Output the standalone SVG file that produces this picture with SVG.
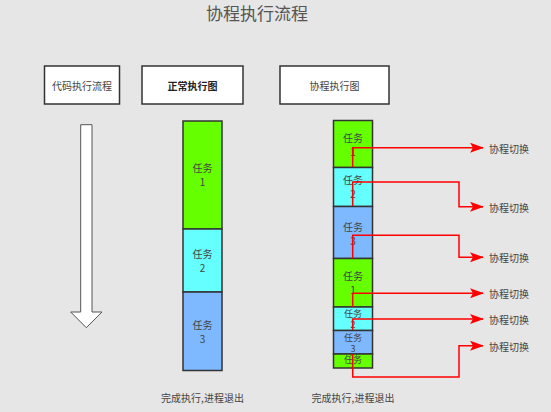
<svg xmlns="http://www.w3.org/2000/svg" width="551" height="412" viewBox="0 0 551 412">
<defs>
<marker id="ah" viewBox="0 0 14 10" refX="13" refY="5" markerWidth="14" markerHeight="10" markerUnits="userSpaceOnUse" orient="auto">
<path d="M0,0 L14,5 L0,10 L3,5 Z" fill="#FF0000"/>
</marker>
<clipPath id="clipG"><rect x="333.5" y="354" width="39" height="14"/></clipPath>
</defs>
<style>
text{font-family:"Noto Sans CJK SC","Noto Sans",sans-serif;fill:#444;text-anchor:middle;dominant-baseline:central}
.t{font-size:10px}
.s{font-size:9px}
.hdr{fill:#fff;stroke:#333;stroke-width:1.5}
.g{fill:#66FF00;stroke:#333;stroke-width:1.5}
.c{fill:#66FFFF;stroke:#333;stroke-width:1.5}
.b{fill:#7EB9FF;stroke:#333;stroke-width:1.5}
.r{fill:none;stroke:#FF0000;stroke-width:1.5;marker-end:url(#ah)}
.lbl{font-size:10px;text-anchor:start;fill:#444}
</style>
<rect width="551" height="412" fill="#E6E6E6"/>
<text x="257" y="12" style="font-size:17px;fill:#555">协程执行流程</text>

<g id="hdr1"><rect class="hdr" x="44.5" y="66" width="75" height="38"/><text class="t" x="82" y="85">代码执行流程</text></g>
<g id="hdr2"><rect class="hdr" x="142" y="66" width="101" height="38"/><text class="t" x="192.5" y="85" style="font-weight:bold;fill:#222">正常执行图</text></g>
<g id="hdr3"><rect class="hdr" x="280" y="66" width="109" height="38"/><text class="t" x="334.5" y="85">协程执行图</text></g>

<g id="flow-arrow"><polygon points="80.7,124.7 92,124.7 92,312 102,312 86.3,327.7 70.7,312 80.7,312" fill="#fff" stroke="#555" stroke-width="1"/></g>

<g id="n-task1"><rect class="g" x="183" y="121" width="39" height="108"/><text class="t" x="202.5" y="167">任务</text><text class="t" x="202.5" y="181">1</text></g>
<g id="n-task2"><rect class="c" x="183" y="229" width="39" height="63"/><text class="t" x="202.5" y="253">任务</text><text class="t" x="202.5" y="267">2</text></g>
<g id="n-task3"><rect class="b" x="183" y="292" width="39" height="78.5"/><text class="t" x="202.5" y="324">任务</text><text class="t" x="202.5" y="338">3</text></g>
<text class="t" x="202.5" y="397">完成执行,进程退出</text>

<g id="c-task1a"><rect class="g" x="333.5" y="120.5" width="39" height="47"/><text class="t" x="353" y="137">任务</text><text class="t" x="353" y="151">1</text></g>
<g id="c-task2a"><rect class="c" x="333.5" y="167.5" width="39" height="39"/><text class="t" x="353" y="179">任务</text><text class="t" x="353" y="193">2</text></g>
<g id="c-task3a"><rect class="b" x="333.5" y="206.5" width="39" height="52"/><text class="t" x="353" y="226">任务</text><text class="t" x="353" y="240">3</text></g>
<g id="c-task1b"><rect class="g" x="333.5" y="258.5" width="39" height="48.5"/><text class="t" x="353" y="275">任务</text><text class="t" x="353" y="289">1</text></g>
<g id="c-task2b"><rect class="c" x="333.5" y="307" width="39" height="23.5"/><text class="s" x="353" y="313">任务</text><text class="s" x="353" y="324">2</text></g>
<g id="c-task3b"><rect class="b" x="333.5" y="330.5" width="39" height="23.5"/><text class="s" x="353" y="337">任务</text><text class="s" x="353" y="348">3</text></g>
<g id="c-task1c"><rect class="g" x="333.5" y="354" width="39" height="14"/><g clip-path="url(#clipG)"><text class="s" x="353" y="359">任务</text></g></g>
<text class="t" x="353" y="397">完成执行,进程退出</text>

<g id="connectors">
<path class="r" d="M352.7,167 V147.7 H483"/>
<path class="r" d="M352.7,206 V182 H459 V206.7 H483"/>
<path class="r" d="M352.7,258.5 V235.3 H459 V257.3 H483"/>
<path class="r" d="M352.7,307 V293.3 H483"/>
<path class="r" d="M352.7,330 V319 H483"/>
<path class="r" d="M352.7,354 V377 H459 V345.7 H483"/>
</g>

<g id="labels">
<text class="lbl" x="489" y="148">协程切换</text>
<text class="lbl" x="489" y="207">协程切换</text>
<text class="lbl" x="489" y="257">协程切换</text>
<text class="lbl" x="489" y="293">协程切换</text>
<text class="lbl" x="489" y="319">协程切换</text>
<text class="lbl" x="489" y="346">协程切换</text>
</g>
</svg>
